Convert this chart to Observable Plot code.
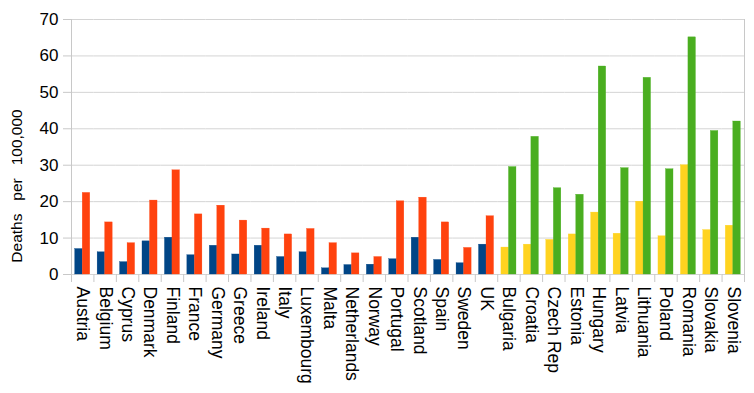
<!DOCTYPE html>
<html>
<head>
<meta charset="utf-8">
<script src="https://cdn.jsdelivr.net/npm/d3@7"></script>
<script src="https://cdn.jsdelivr.net/npm/@observablehq/plot@0.6"></script>
<style>
  html, body { margin: 0; padding: 0; background: #fff; }
  #chart { width: 754px; height: 393px; overflow: hidden; }
</style>
</head>
<body>
<div id="chart"></div>
<script>
// Western countries (blue / red series)
const westCountries = ["Austria","Belgium","Cyprus","Denmark","Finland","France","Germany","Greece","Ireland","Italy","Luxembourg","Malta","Netherlands","Norway","Portugal","Scotland","Spain","Sweden","UK"];
const westFirst  = [7.0, 6.1, 3.4, 9.1, 10.1, 5.3, 7.9, 5.5, 7.9, 4.8, 6.1, 1.7, 2.6, 2.7, 4.2, 10.1, 4.0, 3.1, 8.2];
const westSecond = [22.4, 14.3, 8.6, 20.3, 28.6, 16.5, 18.9, 14.8, 12.6, 11.0, 12.5, 8.6, 5.8, 4.8, 20.1, 21.1, 14.3, 7.3, 16.0];

// Eastern countries (yellow / green series)
const eastCountries = ["Bulgaria","Croatia","Czech Rep","Estonia","Hungary","Latvia","Lithuania","Poland","Romania","Slovakia","Slovenia"];
const eastFirst  = [7.4, 8.2, 9.5, 11.0, 17.0, 11.2, 20.0, 10.5, 30.0, 12.2, 13.4];
const eastSecond = [29.5, 37.8, 23.7, 21.9, 57.1, 29.2, 54.0, 28.9, 65.1, 39.4, 42.0];

const yTicks = [0, 10, 20, 30, 40, 50, 60, 70];
const yLabel = "Deaths\u00a0\u00a0\u00a0per\u00a0\u00a0\u00a0100,000";

const colors = { westFirst: "#004586", westSecond: "#ff420e", eastFirst: "#ffd320", eastSecond: "#4aae20" };

const countries = westCountries.concat(eastCountries);
const rows = [];
westCountries.forEach((c, i) => {
  rows.push({country: c, series: "a", value: westFirst[i], fill: colors.westFirst});
  rows.push({country: c, series: "b", value: westSecond[i], fill: colors.westSecond});
});
eastCountries.forEach((c, i) => {
  rows.push({country: c, series: "a", value: eastFirst[i], fill: colors.eastFirst});
  rows.push({country: c, series: "b", value: eastSecond[i], fill: colors.eastSecond});
});

const lineColor = "#c8c8c8";

const chart = Plot.plot({
  width: 754,
  height: 393,
  marginLeft: 71,
  marginRight: 10,
  marginTop: 19,
  marginBottom: 119,
  style: { fontFamily: "'Liberation Sans', Arial, sans-serif", fontSize: "17px", color: "#000", background: "#fff" },
  fx: { domain: countries, padding: 0, round: false, label: null },
  x: { domain: ["a", "b"], paddingInner: 0, paddingOuter: 0.49, round: false, axis: null },
  y: { domain: [0, 70], axis: null },
  color: { type: "identity" },
  marks: [
    Plot.gridY({ ticks: yTicks, stroke: "#d4d4d4", strokeOpacity: 1 }),
    Plot.barY(rows, { fx: "country", x: "series", y: "value", fill: "fill", insetLeft: 0, insetRight: 0, stroke: "fill", strokeWidth: 0.3 }),
    Plot.frame({ anchor: "left", stroke: lineColor, strokeOpacity: 1, insetTop: 255, insetBottom: -7 }),
    Plot.frame({ anchor: "left", facetAnchor: "left", stroke: lineColor, strokeOpacity: 1, insetBottom: -7 }),
    Plot.frame({ anchor: "right", facetAnchor: "right", stroke: lineColor, strokeOpacity: 1, insetBottom: -7 }),
    Plot.axisY({ ticks: yTicks, tickSize: 8, tickPadding: 5, fontSize: 17, label: null, stroke: lineColor }),
    Plot.axisFx({ anchor: "bottom", rotate: 90, textAnchor: "start", lineAnchor: "middle", tickSize: 0, tickPadding: 12, fontSize: 17.5, label: null }),
    Plot.text([yLabel], { text: d => d, frameAnchor: "left", facetAnchor: "left", textAnchor: "middle", rotate: -90, dx: -54, dy: 39, fontSize: 15.5 })
  ]
});

document.getElementById("chart").appendChild(chart);
</script>
</body>
</html>
